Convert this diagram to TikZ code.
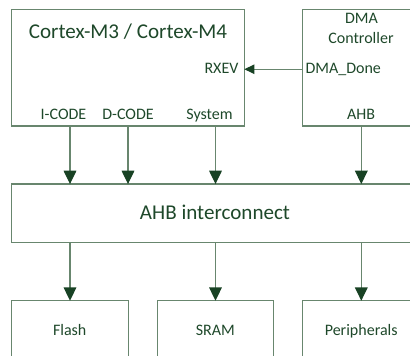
\documentclass[tikz,border=0pt]{standalone}
\usepackage{fontspec}
\setmainfont{Carlito}
\usetikzlibrary{arrows.meta, positioning, calc}
\definecolor{textgreen}{RGB}{30, 72, 42}
\definecolor{edgegreen}{RGB}{104, 134, 110}
\definecolor{tipgreen}{RGB}{24, 66, 36}
\tikzset{
  blk/.style      = {rectangle, draw=edgegreen, line width=0.9pt, inner sep=0pt, outer sep=0pt},
  ttl/.style      = {textgreen, font=\fontsize{15.8}{17}\selectfont, anchor=base, inner sep=0pt},
  port/.style     = {textgreen, font=\fontsize{12}{14}\selectfont, anchor=base, inner sep=0pt},
  bus/.style      = {draw=edgegreen, line width=0.9pt, -{Triangle[length=10pt, width=9.5pt, fill=tipgreen, color=tipgreen]}},
  sig/.style      = {draw=edgegreen, line width=0.9pt, -{Triangle[length=7.5pt, width=7pt, fill=tipgreen, color=tipgreen]}},
}

\begin{document}
\begin{tikzpicture}[x=0.75pt, y=-0.75pt]

% page area (410 x 356)
\useasboundingbox (0,0) rectangle (410,356);
\clip (0,0) rectangle (410,356);

% === blocks ===
\node[blk, minimum width=174.5pt, minimum height=87.5pt] (cortex) at (128,67.7) {};
\node[blk, minimum width=88pt, minimum height=87.5pt] (dma) at (361.3,67.7) {};
\node[blk, minimum width=305pt, minimum height=43.7pt] (ahb) at (215,213.2) {};
\node[blk, minimum width=87.5pt, minimum height=43pt] (flash) at (70,329.4) {};
\node[blk, minimum width=87.5pt, minimum height=43pt] (sram) at (215.5,329.4) {};
\node[blk, minimum width=88pt, minimum height=43pt] (periph) at (361.3,329.4) {};

% === texts ===
\node[ttl] (cortexname) at (128,38.3) {Cortex-M3 / Cortex-M4};
\node[port, anchor=base east] (rxev) at (238.7,73.3) {RXEV};
\node[port] (icode) at (63.5,119.3) {I-CODE};
\node[port] (dcode) at (128,119.3) {D-CODE};
\node[port] (system) at (209.5,119.3) {System};

\node[port] (dmaname) at (361.5,24) {DMA};
\node[port] (dmactrl) at (361,43.3) {Controller};
\node[port, anchor=base west] (dmadone) at (305.3,73.3) {DMA\_Done};
\node[port] (dmaahb) at (361,119.3) {AHB};

\node[ttl] (ahbname) at (215,219.3) {AHB interconnect};

\node[port] (flashname) at (69.7,335.7) {Flash};
\node[port] (sramname) at (215.3,335.7) {SRAM};
\node[port] (periphname) at (361.2,335.7) {Peripherals};

% === connectors ===
\draw[sig] (dma.west |- dmadone.west) -- (cortex.east |- dmadone.west);

\draw[bus] (cortex.south -| flash.north) -- (ahb.north -| flash.north);
\draw[bus] (cortex.south -| dcode.south) -- (ahb.north -| dcode.south);
\draw[bus] (cortex.south -| sram.north) -- (ahb.north -| sram.north);
\draw[bus] (dma.south) -- (ahb.north -| dma.south);

\draw[bus] (ahb.south -| flash.north) -- (flash.north);
\draw[bus] (ahb.south -| sram.north) -- (sram.north);
\draw[bus] (ahb.south -| periph.north) -- (periph.north);

\end{tikzpicture}
\end{document}
